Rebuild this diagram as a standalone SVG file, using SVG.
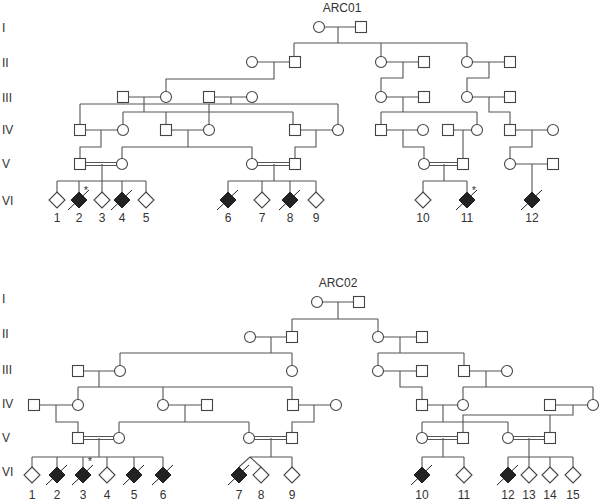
<svg xmlns="http://www.w3.org/2000/svg" width="600" height="501" viewBox="0 0 600 501">
<style>
.ln{fill:none;stroke:#555;stroke-width:1.1}
.sym{fill:#fff;stroke:#444;stroke-width:1.1}
.aff{fill:#222;stroke:#222;stroke-width:1}
.sl{stroke:#222;stroke-width:1}
text{font-family:"Liberation Sans",Arial,sans-serif;fill:#333}
.gen{font-size:12px}
.num{font-size:12px;text-anchor:middle}
.ttl{font-size:12px;text-anchor:middle}
.ast{font-size:11px;text-anchor:middle}
</style>
<defs>
<rect id="sq" class="sym" x="-5.5" y="-5.5" width="11" height="11"/>
<circle id="ci" class="sym" r="5.5"/>
<path id="dm" class="sym" d="M0,-8L8,0L0,8L-8,0Z"/>
<g id="da"><path class="aff" d="M0,-8L8,0L0,8L-8,0Z"/><line class="sl" x1="-11" y1="10" x2="10" y2="-10"/></g>
</defs>

<!-- generation labels -->
<g id="genlabels">
<text class="gen" x="2" y="32">I</text>
<text class="gen" x="2" y="67">II</text>
<text class="gen" x="2" y="102">III</text>
<text class="gen" x="2" y="134">IV</text>
<text class="gen" x="2" y="168">V</text>
<text class="gen" x="2" y="205">VI</text>
<text class="gen" x="2" y="303">I</text>
<text class="gen" x="2" y="338">II</text>
<text class="gen" x="2" y="374">III</text>
<text class="gen" x="2" y="408">IV</text>
<text class="gen" x="2" y="442">V</text>
<text class="gen" x="2" y="476">VI</text>
</g>
<text class="ttl" x="342" y="12">ARC01</text>
<text class="ttl" x="338" y="287">ARC02</text>

<!-- connectors -->
<g id="connectors" class="ln">
<!-- ARC01 -->
<path d="M319,27H361M338,27V43M294,43H467M294,43V62M381,43V62M467,43V62"/>
<path d="M252,62H295M274,62V79H166V97"/>
<path d="M381,62H424M403,62V78H381V97"/>
<path d="M467,62H510M489,62V78H467V97"/>
<path d="M123,97H166M144,97V112M123,112H293M123,112V130M166,112V130M293,112V130"/>
<path d="M209,97H252M231,97V104M80,104H338M80,104V130M209,104V130M338,104V130"/>
<path d="M381,97H424M403,97V112M381,112H477M381,112V130M477,112V130"/>
<path d="M467,97H510M489,97V112H510V130"/>
<path d="M80,130H123M101,130V147H80V164"/>
<path d="M166,130H209M188,130V147M122,147H252M122,147V164M252,147V164"/>
<path d="M295,130H338M316,130V147H295V164"/>
<path d="M381,130H423M403,130V147H424V164"/>
<path d="M448,130H477M463,130V164"/>
<path d="M510,130H553M532,130V147H510V164"/>
<path d="M80,162.5H122M80,165.5H122M102,164V181M57,181H146M57,181V192M79,181V192M102,181V192M122,181V192M146,181V192"/>
<path d="M252,162.5H295M252,165.5H295M274,164V181M228,181H316M228,181V192M262,181V192M290,181V192M316,181V192"/>
<path d="M424,162.5H463M424,165.5H463M444,164V181M423,181H467M423,181V192M467,181V192"/>
<path d="M510,164H553M532,164V192"/>
<!-- ARC02 -->
<path d="M317,302H359M338,302V319M292,319H378M292,319V337M378,319V337"/>
<path d="M250,337H292M271,337V353M120,353H292M120,353V371M292,353V371"/>
<path d="M378,337H422M400,337V353M378,353H464M378,353V371M464,353V371"/>
<path d="M78,371H120M99,371V387M78,387H292M78,387V405M163,387V405M292,387V405"/>
<path d="M378,371H422M400,371V387H422V405"/>
<path d="M464,371H507M486,371V387M463,387H593M463,387V405M593,387V405"/>
<path d="M34,405H78M56,405V422H78V438"/>
<path d="M163,405H207M185,405V422M119,422H249M119,422V438M249,422V438"/>
<path d="M293,405H336M314,405V422H292V438"/>
<path d="M422,405H463M443,405V422M422,422H508M422,422V438M508,422V438"/>
<path d="M550,405H593M573,405V415H463V438M550,415V438"/>
<path d="M78,436.5H119M78,439.5H119M99,438V457M32,457H163M32,457V467M57,457V467M83,457V467M107,457V467M134,457V467M163,457V467"/>
<path d="M249,436.5H292M249,439.5H292M271,438V457M250,457H292M239,467L250,457L261,467M292,457V467"/>
<path d="M422,436.5H463M422,439.5H463M443,438V457M422,457H464M422,457V467M464,457V467"/>
<path d="M508,436.5H550M508,439.5H550M529,438V457M508,457H573M508,457V467M529,457V467M550,457V467M573,457V467"/>
</g>

<!-- ARC01 nodes -->
<g id="a01-I"><use href="#ci" x="319" y="27"/><use href="#sq" x="361" y="27"/></g>
<g id="a01-II"><use href="#ci" x="252" y="62"/><use href="#sq" x="295" y="62"/><use href="#ci" x="381" y="62"/><use href="#sq" x="424" y="62"/><use href="#ci" x="467" y="62"/><use href="#sq" x="510" y="62"/></g>
<g id="a01-III"><use href="#sq" x="123" y="97"/><use href="#ci" x="166" y="97"/><use href="#sq" x="209" y="97"/><use href="#ci" x="252" y="97"/><use href="#ci" x="381" y="97"/><use href="#sq" x="424" y="97"/><use href="#ci" x="467" y="97"/><use href="#sq" x="510" y="97"/></g>
<g id="a01-IV"><use href="#sq" x="80" y="130"/><use href="#ci" x="123" y="130"/><use href="#sq" x="166" y="130"/><use href="#ci" x="209" y="130"/><use href="#sq" x="295" y="130"/><use href="#ci" x="338" y="130"/><use href="#sq" x="381" y="130"/><use href="#ci" x="423" y="130"/><use href="#sq" x="448" y="130"/><use href="#ci" x="477" y="130"/><use href="#sq" x="510" y="130"/><use href="#ci" x="553" y="130"/></g>
<g id="a01-V"><use href="#sq" x="80" y="164"/><use href="#ci" x="122" y="164"/><use href="#ci" x="252" y="164"/><use href="#sq" x="295" y="164"/><use href="#ci" x="424" y="164"/><use href="#sq" x="463" y="164"/><use href="#ci" x="510" y="164"/><use href="#sq" x="553" y="164"/></g>
<g id="a01-VI">
<use href="#dm" x="57" y="200"/><use href="#da" x="79" y="200"/><use href="#dm" x="102" y="200"/><use href="#da" x="122" y="200"/><use href="#dm" x="146" y="200"/>
<use href="#da" x="228" y="200"/><use href="#dm" x="262" y="200"/><use href="#da" x="290" y="200"/><use href="#dm" x="316" y="200"/>
<use href="#dm" x="423" y="200"/><use href="#da" x="467" y="200"/><use href="#da" x="532" y="200"/>
<text class="ast" x="86" y="194">*</text><text class="ast" x="474" y="194">*</text>
<text class="num" x="57" y="222">1</text><text class="num" x="79" y="222">2</text><text class="num" x="102" y="222">3</text><text class="num" x="122" y="222">4</text><text class="num" x="146" y="222">5</text>
<text class="num" x="228" y="222">6</text><text class="num" x="262" y="222">7</text><text class="num" x="290" y="222">8</text><text class="num" x="316" y="222">9</text>
<text class="num" x="423" y="222">10</text><text class="num" x="467" y="222">11</text><text class="num" x="532" y="222">12</text>
</g>

<!-- ARC02 nodes -->
<g id="a02-I"><use href="#ci" x="317" y="302"/><use href="#sq" x="359" y="302"/></g>
<g id="a02-II"><use href="#ci" x="250" y="337"/><use href="#sq" x="292" y="337"/><use href="#ci" x="378" y="337"/><use href="#sq" x="422" y="337"/></g>
<g id="a02-III"><use href="#sq" x="78" y="371"/><use href="#ci" x="120" y="371"/><use href="#ci" x="292" y="371"/><use href="#ci" x="378" y="371"/><use href="#sq" x="422" y="371"/><use href="#sq" x="464" y="371"/><use href="#ci" x="507" y="371"/></g>
<g id="a02-IV"><use href="#sq" x="34" y="405"/><use href="#ci" x="78" y="405"/><use href="#ci" x="163" y="405"/><use href="#sq" x="207" y="405"/><use href="#sq" x="293" y="405"/><use href="#ci" x="336" y="405"/><use href="#sq" x="422" y="405"/><use href="#ci" x="463" y="405"/><use href="#sq" x="550" y="405"/><use href="#ci" x="593" y="405"/></g>
<g id="a02-V"><use href="#sq" x="78" y="438"/><use href="#ci" x="119" y="438"/><use href="#ci" x="249" y="438"/><use href="#sq" x="292" y="438"/><use href="#ci" x="422" y="438"/><use href="#sq" x="463" y="438"/><use href="#ci" x="508" y="438"/><use href="#sq" x="550" y="438"/></g>
<g id="a02-VI">
<use href="#dm" x="32" y="475"/><use href="#da" x="57" y="475"/><use href="#da" x="83" y="475"/><use href="#dm" x="107" y="475"/><use href="#da" x="134" y="475"/><use href="#da" x="163" y="475"/>
<use href="#da" x="239" y="475"/><use href="#dm" x="261" y="475"/><use href="#dm" x="292" y="475"/>
<use href="#da" x="422" y="475"/><use href="#dm" x="464" y="475"/><use href="#da" x="508" y="475"/><use href="#dm" x="529" y="475"/><use href="#dm" x="550" y="475"/><use href="#dm" x="573" y="475"/>
<text class="ast" x="90" y="465">*</text>
<text class="num" x="32" y="499">1</text><text class="num" x="57" y="499">2</text><text class="num" x="83" y="499">3</text><text class="num" x="107" y="499">4</text><text class="num" x="134" y="499">5</text><text class="num" x="163" y="499">6</text>
<text class="num" x="239" y="499">7</text><text class="num" x="261" y="499">8</text><text class="num" x="292" y="499">9</text>
<text class="num" x="422" y="499">10</text><text class="num" x="464" y="499">11</text><text class="num" x="508" y="499">12</text><text class="num" x="529" y="499">13</text><text class="num" x="550" y="499">14</text><text class="num" x="573" y="499">15</text>
</g>
</svg>
